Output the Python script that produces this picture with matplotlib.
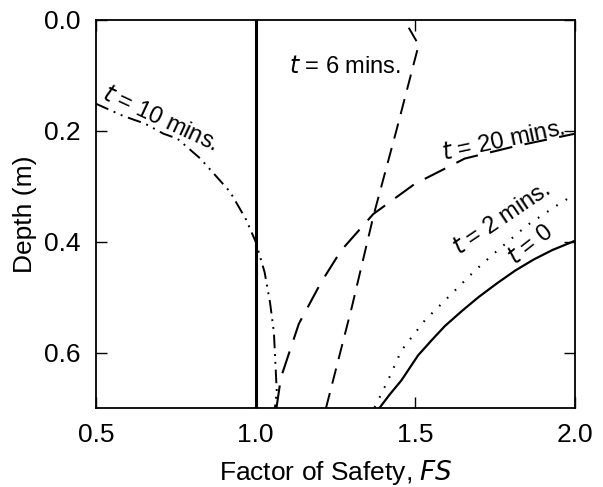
import matplotlib
matplotlib.use("Agg")
import matplotlib.pyplot as plt

plt.rcParams['font.family'] = ['Liberation Sans', 'DejaVu Sans']

# curves: factor of safety vs depth (m)
fs_t0 = [1.387, 1.42, 1.456, 1.508, 1.55, 1.592, 1.645, 1.697, 1.755, 1.812, 1.87, 1.928, 2.0]
z_t0 = [0.70, 0.675, 0.650, 0.605, 0.578, 0.552, 0.525, 0.50, 0.475, 0.452, 0.432, 0.415, 0.398]

fs_t2 = [1.372, 1.414, 1.456, 1.529, 1.592, 1.686, 1.744, 1.85, 1.949, 2.0]
z_t2 = [0.699, 0.65, 0.596, 0.542, 0.506, 0.452, 0.422, 0.37, 0.332, 0.314]

fs_t6 = [1.22, 1.30, 1.37, 1.44, 1.51, 1.465]
z_t6 = [0.70, 0.52, 0.35, 0.20, 0.045, 0.0]

fs_t10 = [0.5, 0.585, 0.654, 0.711, 0.755, 0.827, 0.92, 0.97, 1.0, 1.028, 1.045, 1.057, 1.066, 1.06]
z_t10 = [0.151, 0.173, 0.187, 0.205, 0.214, 0.25, 0.31, 0.36, 0.40, 0.455, 0.51, 0.563, 0.67, 0.70]

fs_t20 = [1.065, 1.079, 1.135, 1.204, 1.267, 1.368, 1.497, 1.654, 1.81, 2.0]
z_t20 = [0.70, 0.645, 0.548, 0.474, 0.416, 0.35, 0.296, 0.25, 0.228, 0.205]

fs_limit = 1.0

fig = plt.figure(figsize=(6.03, 4.87), dpi=100)
ax = fig.add_axes([0.159, 0.162, 0.795, 0.797])

ax.plot(fs_t0, z_t0, color='black', lw=1.6)
ax.plot(fs_t2, z_t2, color='black', lw=1.5, linestyle=(0, (0.8, 4.5)))
ax.plot(fs_t6, z_t6, color='black', lw=1.4, linestyle=(0, (8, 5)))
ax.plot(fs_t10, z_t10, color='black', lw=1.4, linestyle=(0, (7, 3, 1, 3, 1, 3)))
ax.plot(fs_t20, z_t20, color='black', lw=1.5, linestyle=(0, (11, 6)))
ax.axvline(fs_limit, color='black', lw=2.2)

txt = dict(fontsize=17, rotation_mode='anchor', ha='left', va='baseline')
ax.text(0.515, 0.141, r'$\it{t}$ = 10 mins.', rotation=-25, **txt)
ax.text(1.104, 0.0955, r'$\it{t}$ = 6 mins.', rotation=0, **txt)
ax.text(1.588, 0.253, r'$\it{t}$ = 20 mins.', rotation=12, **txt)
ax.text(1.635, 0.425, r'$\it{t}$ = 2 mins.', rotation=34, **txt)
ax.text(1.812, 0.443, r'$\it{t}$ = 0', rotation=38, **txt)

ax.set_xlim(0.5, 2.0)
ax.set_ylim(0.7, 0.0)
ax.set_xticks([0.5, 1.0, 1.5, 2.0])
ax.set_yticks([0.0, 0.2, 0.4, 0.6])
ax.set_xticklabels(['0.5', '1.0', '1.5', '2.0'])
ax.set_yticklabels(['0.0', '0.2', '0.4', '0.6'])
ax.tick_params(direction='in', top=True, right=True, length=8, width=1,
               labelsize=19, pad=11)
for s in ax.spines.values():
    s.set_linewidth(1.3)

ax.set_xlabel('Factor of Safety, $\\it{FS}$', fontsize=19, labelpad=8)
ax.set_ylabel('Depth (m)', fontsize=19, labelpad=5)

fig.savefig('out.png', dpi=100)
